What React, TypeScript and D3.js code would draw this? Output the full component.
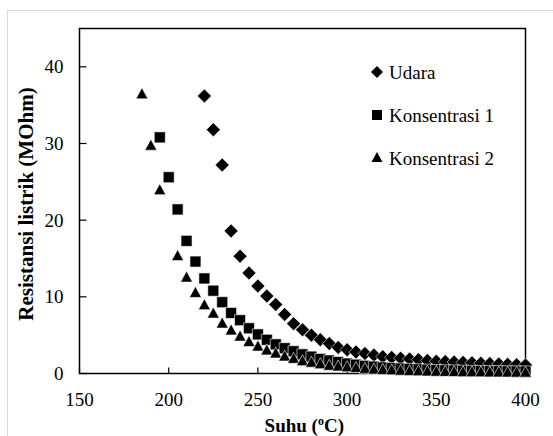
import React from "react";
import * as d3 from "d3";

const xTicks = [150, 200, 250, 300, 350, 400];
const yTicks = [0, 10, 20, 30, 40];

const udaraX = [220, 225, 230, 235, 240, 245, 250, 255, 260, 265, 270, 275, 280, 285, 290, 295, 300, 305, 310, 315, 320, 325, 330, 335, 340, 345, 350, 355, 360, 365, 370, 375, 380, 385, 390, 395, 400];
const udaraY = [36.2, 31.8, 27.2, 18.6, 15.3, 13.1, 11.4, 10.1, 9.0, 7.7, 6.5, 5.7, 5.0, 4.4, 3.9, 3.4, 3.1, 2.8, 2.6, 2.4, 2.2, 2.1, 2.0, 1.9, 1.8, 1.7, 1.6, 1.55, 1.5, 1.45, 1.4, 1.35, 1.3, 1.25, 1.2, 1.15, 1.1];

const k1X = [195, 200, 205, 210, 215, 220, 225, 230, 235, 240, 245, 250, 255, 260, 265, 270, 275, 280, 285, 290, 295, 300, 305, 310, 315, 320, 325, 330, 335, 340, 345, 350, 355, 360, 365, 370, 375, 380, 385, 390, 395, 400];
const k1Y = [30.8, 25.6, 21.4, 17.3, 14.6, 12.4, 10.8, 9.3, 7.9, 6.95, 5.9, 5.1, 4.4, 3.8, 3.3, 2.9, 2.5, 2.2, 1.9, 1.7, 1.5, 1.3, 1.15, 1.0, 0.9, 0.8, 0.72, 0.65, 0.6, 0.55, 0.5, 0.45, 0.42, 0.4, 0.37, 0.35, 0.33, 0.31, 0.3, 0.29, 0.28, 0.27];

const k2X = [185, 190, 195, 205, 210, 215, 220, 225, 230, 235, 240, 245, 250, 255, 260, 265, 270, 275, 280, 285, 290, 295, 300, 305, 310, 315, 320, 325, 330, 335, 340, 345, 350, 355, 360, 365, 370, 375, 380, 385, 390, 395, 400];
const k2Y = [36.4, 29.7, 23.9, 15.3, 12.5, 10.5, 8.9, 7.8, 6.5, 5.6, 4.8, 4.1, 3.5, 3.0, 2.6, 2.2, 1.9, 1.6, 1.4, 1.2, 1.0, 0.9, 0.8, 0.7, 0.6, 0.5, 0.45, 0.4, 0.35, 0.3, 0.28, 0.25, 0.22, 0.2, 0.18, 0.16, 0.15, 0.14, 0.13, 0.12, 0.11, 0.1, 0.1];

const legendLabels = ["Udara", "Konsentrasi 1", "Konsentrasi 2"];

const W = 553;
const H = 436;
const L = 79.5, R = 525.5, T = 28.5, B = 373.5;
const FONT = "'Liberation Serif', 'Times New Roman', serif";

export default function App() {
  const x = d3.scaleLinear().domain([150, 400]).range([L, R]);
  const y = d3.scaleLinear().domain([0, 45]).range([B, T]);

  const diamond = (cx: number, cy: number, r = 7) =>
    `M${cx},${cy - r}L${cx + r},${cy}L${cx},${cy + r}L${cx - r},${cy}Z`;
  const square = (cx: number, cy: number, s = 11) =>
    `M${cx - s / 2},${cy - s / 2}h${s}v${s}h${-s}Z`;
  const triangle = (cx: number, cy: number, w = 12, h = 11) =>
    `M${cx},${cy - h * 0.6}L${cx + w / 2},${cy + h * 0.4}L${cx - w / 2},${cy + h * 0.4}Z`;

  const series = [
    { xs: udaraX, ys: udaraY, shape: diamond },
    { xs: k1X, ys: k1Y, shape: square },
    { xs: k2X, ys: k2Y, shape: triangle },
  ];

  return (
    <svg width={W} height={H} style={{ position: "absolute", left: 0, top: 0 }}>
      <rect x={0} y={0} width={W} height={H} fill="#fff" />
      <rect x={7.5} y={10.5} width={W + 10} height={H + 10} fill="none" stroke="#d9d9d9" strokeWidth={1} />
      <rect x={L} y={T} width={R - L} height={B - T} fill="none" stroke="#000" strokeWidth={1.5} />
      {yTicks.map((t) => (
        <g key={"y" + t}>
          <line x1={L} x2={L + 7} y1={y(t)} y2={y(t)} stroke="#000" strokeWidth={1.2} />
          <text x={L - 16} y={y(t)} dy="0.35em" textAnchor="end" fontFamily={FONT} fontSize={19} fill="#000">
            {t}
          </text>
        </g>
      ))}
      {xTicks.map((t) => (
        <g key={"x" + t}>
          <line x1={x(t)} x2={x(t)} y1={B} y2={B - 6} stroke="#000" strokeWidth={1.2} />
          <text x={x(t)} y={B + 32} textAnchor="middle" fontFamily={FONT} fontSize={19} fill="#000">
            {t}
          </text>
        </g>
      ))}
      {series.map((s, si) => (
        <g key={"s" + si}>
          {s.xs.map((xv, i) => (
            <path key={i} d={s.shape(x(xv), y(s.ys[i]))} fill="#000" stroke="#fff" strokeWidth={0.6} />
          ))}
        </g>
      ))}
      {legendLabels.map((lab, i) => {
        const ly = 72 + i * 43;
        const d = i === 0 ? diamond(377, ly, 6) : i === 1 ? square(377, ly, 10) : triangle(377, ly, 11, 10);
        return (
          <g key={"l" + i}>
            <path d={d} fill="#000" />
            <text x={389} y={ly} dy="0.35em" fontFamily={FONT} fontSize={19} fill="#000">
              {lab}
            </text>
          </g>
        );
      })}
      <text
        transform={`translate(33,204) rotate(-90)`}
        textAnchor="middle"
        fontFamily={FONT}
        fontWeight="bold"
        fontSize={21}
        fill="#000"
      >
        Resistansi listrik (MOhm)
      </text>
      <text x={x(276)} y={432} textAnchor="middle" fontFamily={FONT} fontWeight="bold" fontSize={19} fill="#000">
        Suhu (<tspan fontSize={12} dy={-7}>o</tspan><tspan dy={7}>C)</tspan>
      </text>
    </svg>
  );
}
